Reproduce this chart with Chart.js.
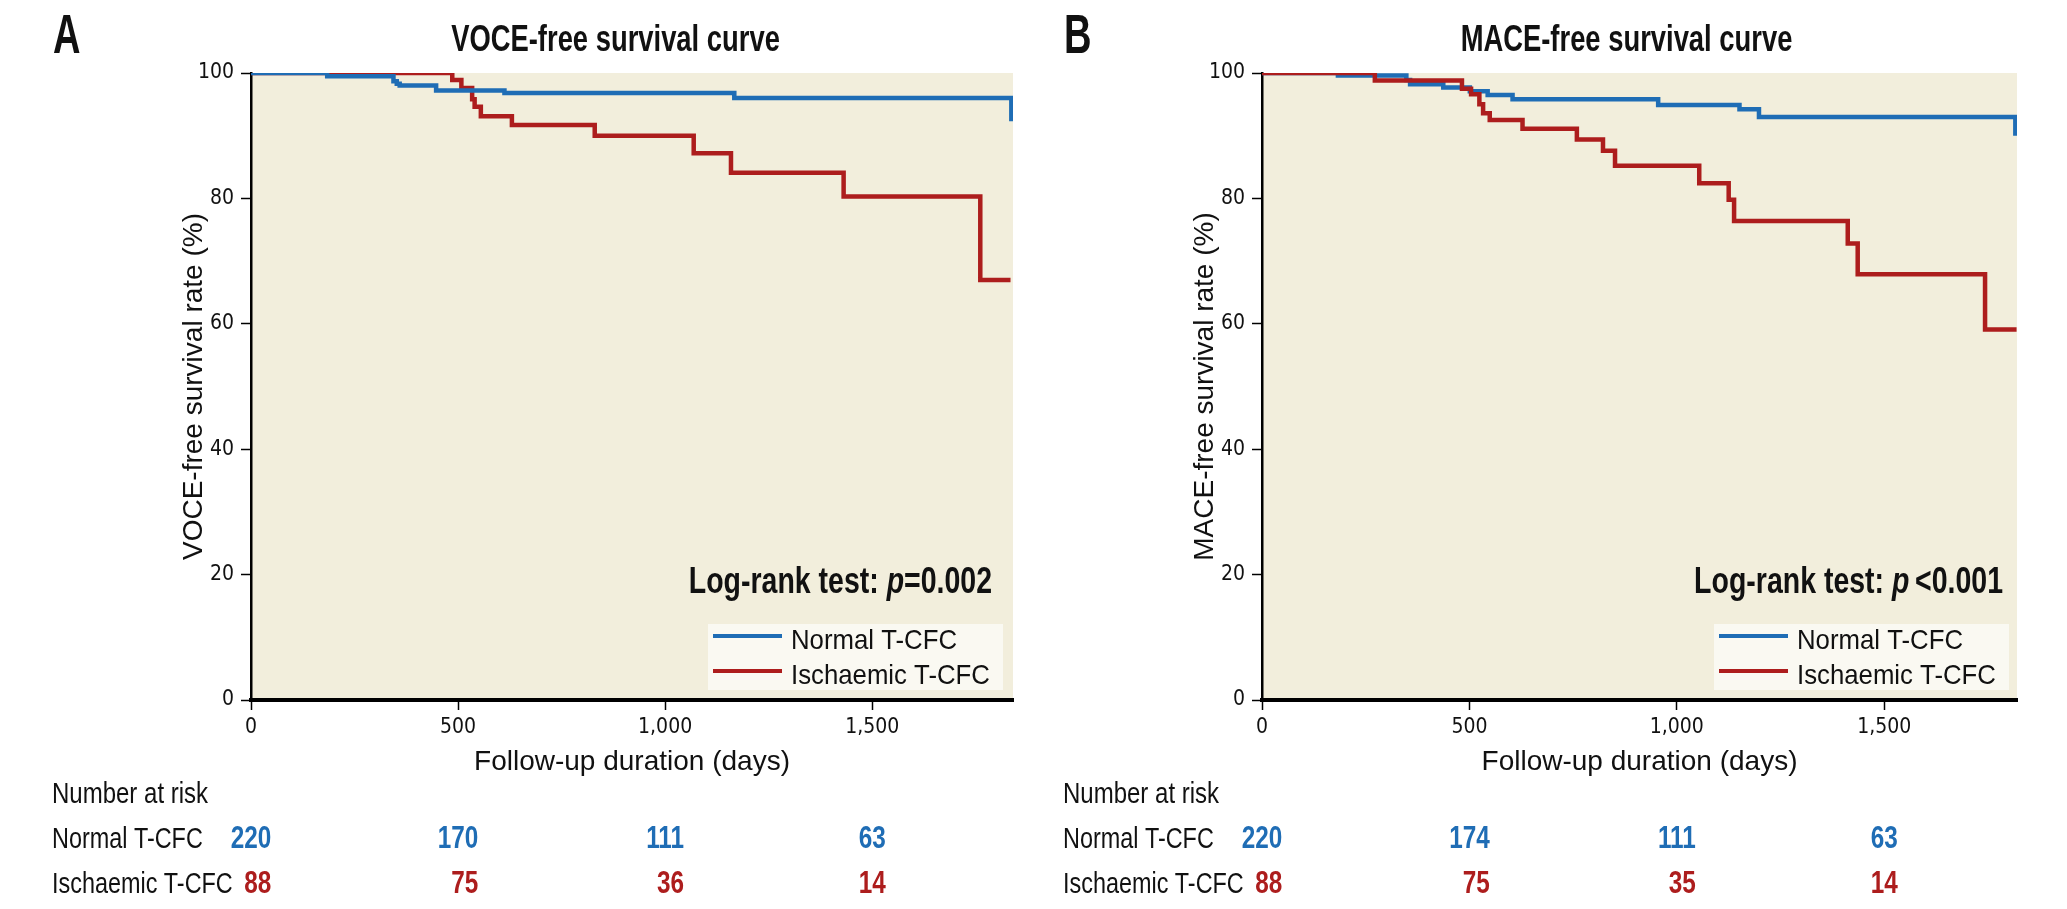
<!DOCTYPE html>
<html>
<head>
<meta charset="utf-8">
<script src="https://cdn.jsdelivr.net/npm/chart.js@4.4.1/dist/chart.umd.min.js"></script>
<style>
html, body { margin: 0; padding: 0; background: #fff; }
#wrap { position: relative; width: 2067px; height: 909px; }
.panel { position: absolute; top: 0; height: 909px; }
</style>
</head>
<body>
<div id="wrap">
  <div class="panel" style="left:0;width:1033px"><canvas id="chartA"></canvas></div>
  <div class="panel" style="left:1033px;width:1034px"><canvas id="chartB"></canvas></div>
</div>
<script>
// ---- data ----
const seriesLabels = ['Normal T-CFC', 'Ischaemic T-CFC'];
const xTickValues = [0, 500, 1000, 1500];
const riskTimes = [0, 500, 1000, 1500];

// A: VOCE-free survival
const voceNormalDays = [0, 184, 344, 352, 359, 447, 612, 1167, 1836];
const voceNormalSurv = [100, 99.5, 98.7, 98.3, 98.0, 97.2, 96.8, 96.0, 92.3];
const voceIschDays = [0, 486, 508, 534, 540, 555, 630, 830, 1069, 1159, 1431, 1761, 1834];
const voceIschSurv = [100, 98.9, 97.6, 95.8, 94.6, 93.1, 91.7, 90.0, 87.2, 84.1, 80.3, 67.0, 67.0];
const voceRiskNormal = [220, 170, 111, 63];
const voceRiskIsch = [88, 75, 36, 14];

// B: MACE-free survival
const maceNormalDays = [0, 183, 348, 357, 437, 501, 544, 604, 955, 1151, 1198, 1816];
const maceNormalSurv = [100, 99.6, 98.9, 98.2, 97.7, 97.1, 96.5, 95.8, 94.9, 94.2, 93.0, 90.0];
const maceIschDays = [0, 272, 482, 504, 524, 533, 549, 628, 759, 822, 851, 1054, 1125, 1138, 1412, 1436, 1743, 1819];
const maceIschSurv = [100, 98.8, 97.5, 96.6, 95.0, 93.6, 92.5, 91.1, 89.4, 87.6, 85.2, 82.4, 79.8, 76.4, 72.8, 67.9, 59.1, 59.1];
const maceRiskNormal = [220, 174, 111, 63];
const maceRiskIsch = [88, 75, 35, 14];

const blue = '#1f6db5';
const red = '#ad1d1d';
const plotBg = '#f2eedc';
const ink = '#111';

// pick a narrow font for the ticks if there is one
function hasFont(name) {
    const c = document.createElement('canvas').getContext('2d');
    const s = 'abcdefghij 1,000 MWQ';
    c.font = '40px monospace';
    const a = c.measureText(s).width;
    c.font = `40px "${name}", monospace`;
    return c.measureText(s).width !== a;
}
let narrowFamily = '"Liberation Sans", Arial, sans-serif';
if (hasFont('Liberation Sans Narrow')) narrowFamily = '"Liberation Sans Narrow", sans-serif';
else if (hasFont('DejaVu Sans Condensed')) narrowFamily = '"DejaVu Sans Condensed", sans-serif';
const sansFamily = '"Liberation Sans", Arial, sans-serif';

let toPoints = (days, surv) => days.map((d, i) => ({x: d, y: surv[i]}));

function setFont(ctx, o) {
    ctx.font = `${o.italic ? 'italic ' : ''}${o.bold ? 'bold ' : ''}${o.size}px ${sansFamily}`;
}
function textWidth(ctx, str, o) {
    ctx.save();
    setFont(ctx, o);
    const w = ctx.measureText(str).width * (o.sx || 1);
    ctx.restore();
    return w;
}
// draws text squeezed horizontally by o.sx, baseline at y
function drawText(ctx, str, x, y, o) {
    const sx = o.sx || 1;
    const w = textWidth(ctx, str, o);
    let left = x;
    if (o.align === 'right') left = x - w;
    else if (o.align === 'center') left = x - w / 2;
    ctx.save();
    setFont(ctx, o);
    ctx.fillStyle = o.color || ink;
    ctx.textAlign = 'left';
    ctx.textBaseline = 'alphabetic';
    ctx.translate(left, y);
    ctx.scale(sx, 1);
    ctx.fillText(str, 0, 0);
    ctx.restore();
    return w;
}

const panelDecor = {
    id: 'panelDecor',
    beforeDraw(chart, args, opts) {
        const {ctx, chartArea: a} = chart;
        ctx.save();
        ctx.fillStyle = plotBg;
        ctx.fillRect(a.left, a.top, a.right - a.left, a.bottom - a.top);
        ctx.restore();
    },
    afterDraw(chart, args, opts) {
        const {ctx, chartArea: a} = chart;
        const xs = chart.scales.x;

        // panel letter + title
        drawText(ctx, opts.letter, a.left - 198, 53, {size: 56, bold: true, sx: 0.68});
        drawText(ctx, opts.title, a.left + 364.5, 51, {size: 37, bold: true, sx: 0.74, align: 'center'});

        // log-rank text, with italic p
        const lr = {size: 37, bold: true, sx: 0.77};
        const lrIt = {size: 37, bold: true, italic: true, sx: 0.77};
        const parts = [['Log-rank test: ', lr], ['p', lrIt], [opts.pText, lr]];
        const total = parts.reduce((s, p) => s + textWidth(ctx, p[0], p[1]), 0);
        let px = a.right - opts.logRankInset - total;
        parts.forEach(p => { px += drawText(ctx, p[0], px, 593, p[1]); });

        // legend box
        const lw = 295, lh = 66;
        const lx = a.right - opts.legendInset - lw, ly = a.bottom - 10 - lh;
        ctx.save();
        ctx.fillStyle = '#faf9f2';
        ctx.fillRect(lx, ly, lw, lh);
        chart.data.datasets.forEach((ds, i) => {
            const cy = ly + 12 + i * 35;
            ctx.strokeStyle = ds.borderColor;
            ctx.lineWidth = 4;
            ctx.beginPath();
            ctx.moveTo(lx + 5, cy);
            ctx.lineTo(lx + 74, cy);
            ctx.stroke();
            drawText(ctx, ds.label, lx + 83, cy + 13, {size: 28, sx: 0.92});
        });
        ctx.restore();

        // number at risk table: columns right-aligned, normal row centred on the tick
        const tx = a.left - 199;
        const numStyle = {size: 32, bold: true, sx: 0.76};
        drawText(ctx, 'Number at risk', tx, 803, {size: 30, sx: 0.8});
        const rows = [[seriesLabels[0], opts.riskNormal, blue, 848], [seriesLabels[1], opts.riskIsch, red, 893]];
        rows.forEach(([lab, vals, col, by]) => {
            drawText(ctx, lab, tx, by, {size: 30, sx: 0.78});
            vals.forEach((v, i) => {
                const colRight = xs.getPixelForValue(riskTimes[i]) + textWidth(ctx, String(opts.riskNormal[i]), numStyle) / 2;
                drawText(ctx, String(v), colRight, by, {...numStyle, color: col, align: 'right'});
            });
        });
    }
};

function makePanel(canvasId, cfg) {
    return new Chart(document.getElementById(canvasId).getContext('2d'), {
        type: 'line',
        data: {
            datasets: [{
                label: seriesLabels[0],
                data: toPoints(cfg.normalDays, cfg.normalSurv),
                borderColor: blue,
                order: cfg.ischOnTop ? 1 : 0,
            }, {
                label: seriesLabels[1],
                data: toPoints(cfg.ischDays, cfg.ischSurv),
                borderColor: red,
                order: cfg.ischOnTop ? 0 : 1,
            }]
        },
        plugins: [panelDecor],
        options: {
            responsive: true,
            maintainAspectRatio: false,
            animation: false,
            layout: {
                padding: {left: cfg.padLeft, right: cfg.padRight, top: 73, bottom: 119}
            },
            elements: {
                point: {radius: 0, hoverRadius: 0},
                line: {borderWidth: 4.5, stepped: 'before', fill: false, borderCapStyle: 'butt', borderJoinStyle: 'miter'}
            },
            plugins: {
                legend: {display: false},
                tooltip: {enabled: false},
                title: {display: false},
                panelDecor: cfg.decor,
            },
            scales: {
                x: {
                    type: 'linear',
                    min: 0,
                    max: cfg.xMax,
                    afterFit: (s) => { s.height = 90; },
                    // fixed ticks at 0, 500, 1000, 1500
                    afterBuildTicks: (s) => { s.ticks = xTickValues.map(v => ({value: v})); },
                    border: {display: true, color: '#000', width: 4},
                    grid: {drawOnChartArea: false, drawTicks: true, tickLength: 10, tickColor: '#000', tickWidth: 1.5},
                    ticks: {
                        autoSkip: false,
                        maxRotation: 0,
                        padding: 5,
                        color: ink,
                        font: {family: narrowFamily, size: 21},
                        callback: (v) => v.toLocaleString('en-US'),
                    },
                    title: {
                        display: true,
                        text: 'Follow-up duration (days)',
                        color: ink,
                        font: {family: sansFamily, size: 28},
                        padding: {top: 0, bottom: 11},
                    }
                },
                y: {
                    min: 0,
                    max: 100,
                    afterFit: (s) => { s.width = 81; },
                    border: {display: true, color: '#000', width: 2.5},
                    grid: {drawOnChartArea: false, drawTicks: true, tickLength: 10, tickColor: '#000', tickWidth: 1.5},
                    ticks: {
                        stepSize: 20,
                        padding: 7,
                        color: ink,
                        font: {family: narrowFamily, size: 21},
                    },
                    title: {
                        display: true,
                        text: cfg.yTitle,
                        color: ink,
                        font: {family: sansFamily, size: 28},
                        padding: {top: 7, bottom: 0},
                    }
                }
            }
        }
    });
}

makePanel('chartA', {
    normalDays: voceNormalDays, normalSurv: voceNormalSurv,
    ischDays: voceIschDays, ischSurv: voceIschSurv,
    xMax: 1840, padLeft: 170, padRight: 20, ischOnTop: false,
    yTitle: 'VOCE-free survival rate (%)',
    decor: {
        letter: 'A', title: 'VOCE-free survival curve', pText: '=0.002',
        logRankInset: 21, legendInset: 10,
        riskNormal: voceRiskNormal, riskIsch: voceRiskIsch,
    }
});

makePanel('chartB', {
    normalDays: maceNormalDays, normalSurv: maceNormalSurv,
    ischDays: maceIschDays, ischSurv: maceIschSurv,
    xMax: 1820, padLeft: 148, padRight: 50, ischOnTop: true,
    yTitle: 'MACE-free survival rate (%)',
    decor: {
        letter: 'B', title: 'MACE-free survival curve', pText: '\u2009<0.001',
        logRankInset: 14, legendInset: 8,
        riskNormal: maceRiskNormal, riskIsch: maceRiskIsch,
    }
});
</script>
</body>
</html>
